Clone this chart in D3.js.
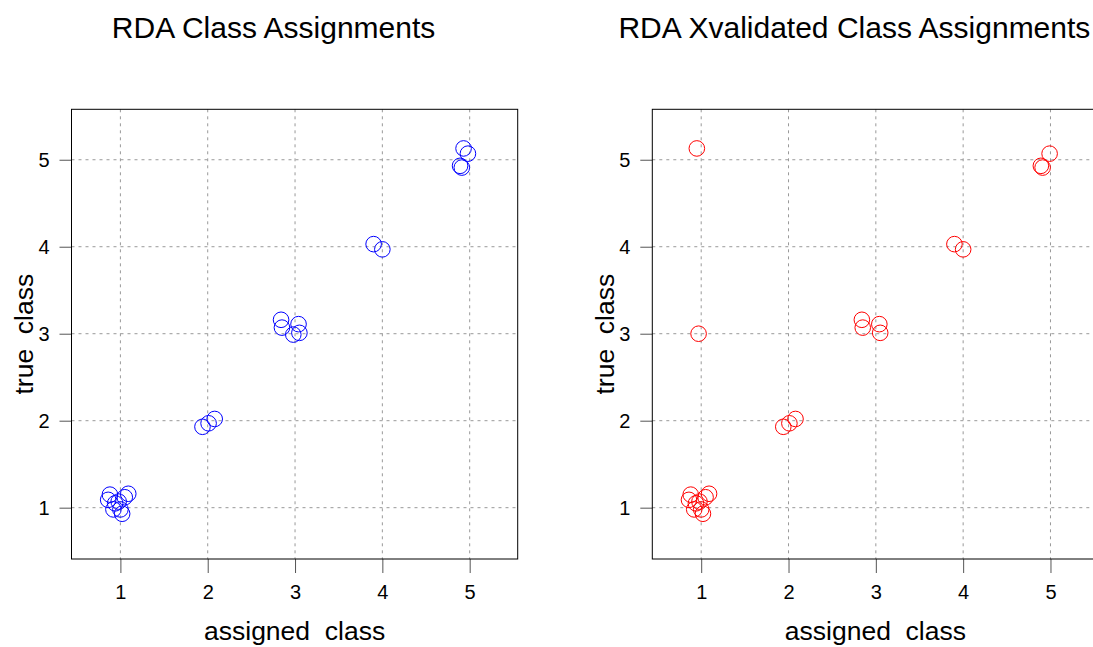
<!DOCTYPE html>
<html>
<head>
<meta charset="utf-8">
<script src="https://cdn.jsdelivr.net/npm/d3@7"></script>
<style>
  html, body { margin: 0; padding: 0; background: #fff; }
  text { font-family: "Liberation Sans", Arial, Helvetica, sans-serif; white-space: pre; }
</style>
</head>
<body>
<svg id="chart" width="1093" height="647"></svg>
<script>
// ---- data (jittered values) ----
const titles = ["RDA Class Assignments", "RDA Xvalidated Class Assignments"];
const xLabel = "assigned  class";
const yLabel = "true  class";
const tickValues = [1, 2, 3, 4, 5];
const tickLabels = ["1", "2", "3", "4", "5"];

// Panel 1: RDA class assignments (assigned, true), jittered
const rdaAssigned = [0.88, 0.86, 1.09, 1.05, 0.94, 1.00, 0.92, 1.02, 0.98,
                     1.94, 2.01, 2.08,
                     2.84, 2.85, 3.04, 3.05, 2.98,
                     3.90, 4.00,
                     4.93, 4.98, 4.89, 4.91];
const rdaTrue     = [1.15, 1.09, 1.16, 1.12, 1.05, 0.98, 0.98, 0.93, 1.07,
                     1.93, 1.97, 2.02,
                     3.16, 3.07, 3.11, 3.01, 2.99,
                     4.03, 3.97,
                     5.13, 5.07, 4.93, 4.91];

// Panel 2: cross-validated class assignments (assigned, true), jittered
const xvAssigned = [0.88, 0.86, 1.09, 1.05, 0.94, 1.00, 0.92, 1.02, 0.98,
                    0.95, 0.97,
                    1.94, 2.01, 2.08,
                    2.84, 2.85, 3.04, 3.05,
                    3.90, 4.00,
                    4.99, 4.89, 4.91];
const xvTrue     = [1.15, 1.09, 1.16, 1.12, 1.05, 0.98, 0.98, 0.93, 1.07,
                    5.13, 3.00,
                    1.93, 1.97, 2.02,
                    3.16, 3.07, 3.11, 3.01,
                    4.03, 3.97,
                    5.07, 4.93, 4.91];

const panels = [
  { title: titles[0], xs: rdaAssigned, ys: rdaTrue, color: "#0000ff", offset: 0 },
  { title: titles[1], xs: xvAssigned, ys: xvTrue, color: "#ff0000", offset: 580.8 }
];

// ---- layout ----
const box = { left: 71.5, right: 517.7, top: 109.3, bottom: 559 };
const xDomain = [0.44, 5.55];
const yDomain = [0.41, 5.58];

const svg = d3.select("#chart");

panels.forEach(p => {
  const g = svg.append("g").attr("transform", `translate(${p.offset},0)`);
  const x = d3.scaleLinear().domain(xDomain).range([box.left, box.right]);
  const y = d3.scaleLinear().domain(yDomain).range([box.bottom, box.top]);
  const cx = (box.left + box.right) / 2;
  const cy = (box.top + box.bottom) / 2;

  // grid
  g.append("g").selectAll("line").data(tickValues).join("line")
    .attr("x1", d => x(d)).attr("x2", d => x(d))
    .attr("y1", box.top).attr("y2", box.bottom)
    .attr("stroke", "#999").attr("stroke-width", 1).attr("stroke-dasharray", "3,4");
  g.append("g").selectAll("line").data(tickValues).join("line")
    .attr("y1", d => y(d)).attr("y2", d => y(d))
    .attr("x1", box.left).attr("x2", box.right)
    .attr("stroke", "#999").attr("stroke-width", 1).attr("stroke-dasharray", "3,4");

  // axes
  const xAxis = d3.axisBottom(x).tickValues(tickValues).tickFormat((d, i) => tickLabels[i])
    .tickSize(14).tickPadding(12);
  const gx = g.append("g").attr("transform", `translate(0,${box.bottom})`).call(xAxis);
  gx.select(".domain").remove();
  gx.selectAll(".tick line").attr("stroke", "#555");
  gx.selectAll(".tick text").attr("font-size", 20).attr("fill", "#000")
    .style("font-family", '"Liberation Sans", Arial, sans-serif');

  const yAxis = d3.axisLeft(y).tickValues(tickValues).tickFormat((d, i) => tickLabels[i])
    .tickSize(12).tickPadding(10);
  const gy = g.append("g").attr("transform", `translate(${box.left},0)`).call(yAxis);
  gy.select(".domain").remove();
  gy.selectAll(".tick line").attr("stroke", "#555");
  gy.selectAll(".tick text").attr("font-size", 20).attr("fill", "#000")
    .style("font-family", '"Liberation Sans", Arial, sans-serif');

  // box
  g.append("rect")
    .attr("x", box.left).attr("y", box.top)
    .attr("width", box.right - box.left).attr("height", box.bottom - box.top)
    .attr("fill", "none").attr("stroke", "#000").attr("stroke-width", 1);

  // points
  g.append("g").selectAll("circle").data(p.xs.map((v, i) => [v, p.ys[i]])).join("circle")
    .attr("cx", d => x(d[0])).attr("cy", d => y(d[1])).attr("r", 7.8)
    .attr("fill", "none").attr("stroke", p.color).attr("stroke-width", 1);

  // titles and labels
  g.append("text").attr("x", cx - 21).attr("y", 38).attr("text-anchor", "middle")
    .attr("font-size", 30).attr("fill", "#000").text(p.title);
  g.append("text").attr("x", cx).attr("y", 640).attr("text-anchor", "middle")
    .attr("font-size", 26.5).attr("fill", "#000").text(xLabel);
  g.append("text").attr("transform", `translate(33,${cy}) rotate(-90)`)
    .attr("text-anchor", "middle")
    .attr("font-size", 26.5).attr("fill", "#000").text(yLabel);
});
</script>
</body>
</html>
